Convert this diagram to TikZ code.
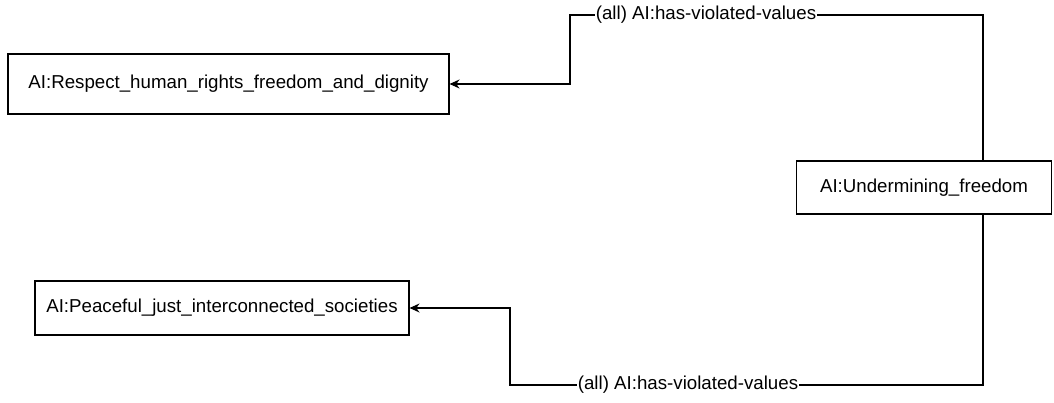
\documentclass[tikz,border=0pt]{standalone}
\usepackage{fontspec}
\setmainfont{Liberation Sans}
\usetikzlibrary{arrows.meta}
\begin{document}
\begin{tikzpicture}[x=1pt,y=-1pt,
  box/.style={draw, line width=1.1pt, inner sep=0pt, font=\fontsize{18.7}{22}\selectfont},
  conn/.style={draw, line width=1.1pt, -{Stealth[length=10pt,width=9pt]}},
  lbl/.style={fill=white, inner sep=1pt, font=\fontsize{18.7}{22}\selectfont}]
\useasboundingbox (0,0) rectangle (1054,403);
\node[box, minimum width=441pt, minimum height=60pt] (a) at (228.5,84) {AI:Respect\_human\_rights\_freedom\_and\_dignity};
\node[box, minimum width=374pt, minimum height=54pt] (b) at (222,308) {AI:Peaceful\_just\_interconnected\_societies};
\node[box, minimum width=255pt, minimum height=53pt] (c) at (924,187.5) {AI:Undermining\_freedom};
\coordinate (ct) at (983,161);
\coordinate (cb) at (983,214);
\draw[conn] (ct) -- (983,15) -- (570,15) -- (570,84) -- (a.east);
\draw[conn] (cb) -- (983,385) -- (510,385) -- (510,308) -- (b.east);
\node[lbl] (l1) at (706,15) {(all) AI:has-violated-values};
\node[lbl] (l2) at (688,385) {(all) AI:has-violated-values};
\end{tikzpicture}
\end{document}
